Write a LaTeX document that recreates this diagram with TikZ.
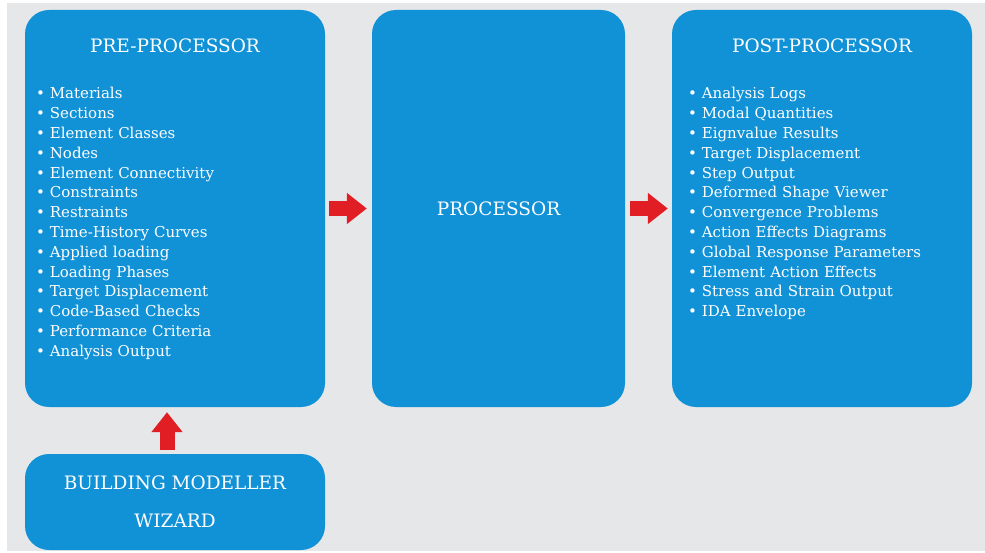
\documentclass[tikz,border=0pt]{standalone}
\usepackage{fontspec}
\setmainfont{DejaVu Serif}
\usetikzlibrary{arrows.meta}
\definecolor{boxblue}{RGB}{17,145,214}
\definecolor{bggray}{RGB}{230,231,233}
\definecolor{arrowred}{RGB}{224,30,36}
\begin{document}
\begin{tikzpicture}[x=1pt,y=-1pt,node distance=19.8pt,
    box node/.style={rectangle,rounded corners=24pt,fill=boxblue,text=white,inner sep=0pt,align=center,font=\fontsize{18.5}{22}\selectfont},
    title node/.style={rectangle,text=white,inner sep=0pt,font=\fontsize{18.5}{22}\selectfont},
    item node/.style={rectangle,text=white,text width=250pt,align=left,inner sep=0pt,text height=11pt,text depth=3.5pt,font=\fontsize{15}{18}\selectfont},
    red arrow/.style={draw=arrowred,line width=15pt,-{Triangle[length=20pt,width=30pt]}}]
  \useasboundingbox (0,0) rectangle (985,553);
  \fill[bggray] (7,3) rectangle (985,551);
  % boxes
  \node[box node,minimum width=300pt,minimum height=397pt] (pre)  at (175,208.5) {};
  \node[box node,minimum width=253pt,minimum height=397pt] (proc) at (498.5,208.5) {PROCESSOR};
  \node[box node,minimum width=300pt,minimum height=397pt] (post) at (822,208.5) {};
  \node[box node,minimum width=300pt,minimum height=96pt]  (wiz)  at (175,502) {BUILDING MODELLER\\[16pt]WIZARD};
  \node[title node] (pretitle)  at (175,46) {PRE-PROCESSOR};
  \node[title node] (posttitle) at (822,46) {POST-PROCESSOR};
  % pre-processor list
  \node[item node] (p1)  at (161,95.25)  {• Materials};
  \node[item node] (p2)  [below of=p1]  {• Sections};
  \node[item node] (p3)  [below of=p2]  {• Element Classes};
  \node[item node] (p4)  [below of=p3]  {• Nodes};
  \node[item node] (p5)  [below of=p4]  {• Element Connectivity};
  \node[item node] (p6)  [below of=p5]  {• Constraints};
  \node[item node] (p7)  [below of=p6]  {• Restraints};
  \node[item node] (p8)  [below of=p7]  {• Time-History Curves};
  \node[item node] (p9)  [below of=p8]  {• Applied loading};
  \node[item node] (p10) [below of=p9]  {• Loading Phases};
  \node[item node] (p11) [below of=p10] {• Target Displacement};
  \node[item node] (p12) [below of=p11] {• Code-Based Checks};
  \node[item node] (p13) [below of=p12] {• Performance Criteria};
  \node[item node] (p14) [below of=p13] {• Analysis Output};
  % post-processor list
  \node[item node] (q1)  at (813,95.25)  {• Analysis Logs};
  \node[item node] (q2)  [below of=q1]  {• Modal Quantities};
  \node[item node] (q3)  [below of=q2]  {• Eignvalue Results};
  \node[item node] (q4)  [below of=q3]  {• Target Displacement};
  \node[item node] (q5)  [below of=q4]  {• Step Output};
  \node[item node] (q6)  [below of=q5]  {• Deformed Shape Viewer};
  \node[item node] (q7)  [below of=q6]  {• Convergence Problems};
  \node[item node] (q8)  [below of=q7]  {• Action Effects Diagrams};
  \node[item node] (q9)  [below of=q8]  {• Global Response Parameters};
  \node[item node] (q10) [below of=q9]  {• Element Action Effects};
  \node[item node] (q11) [below of=q10] {• Stress and Strain Output};
  \node[item node] (q12) [below of=q11] {• IDA Envelope};
  % arrows
  \draw[red arrow,shorten <=4pt,shorten >=5pt] (pre.east) -- (proc.west);
  \draw[red arrow,shorten <=5pt,shorten >=4pt] (proc.east) -- (post.west);
  \draw[red arrow,shorten <=4pt,shorten >=5pt] ([xshift=-8pt]wiz.north) -- ([xshift=-8pt]pre.south);
\end{tikzpicture}
\end{document}
